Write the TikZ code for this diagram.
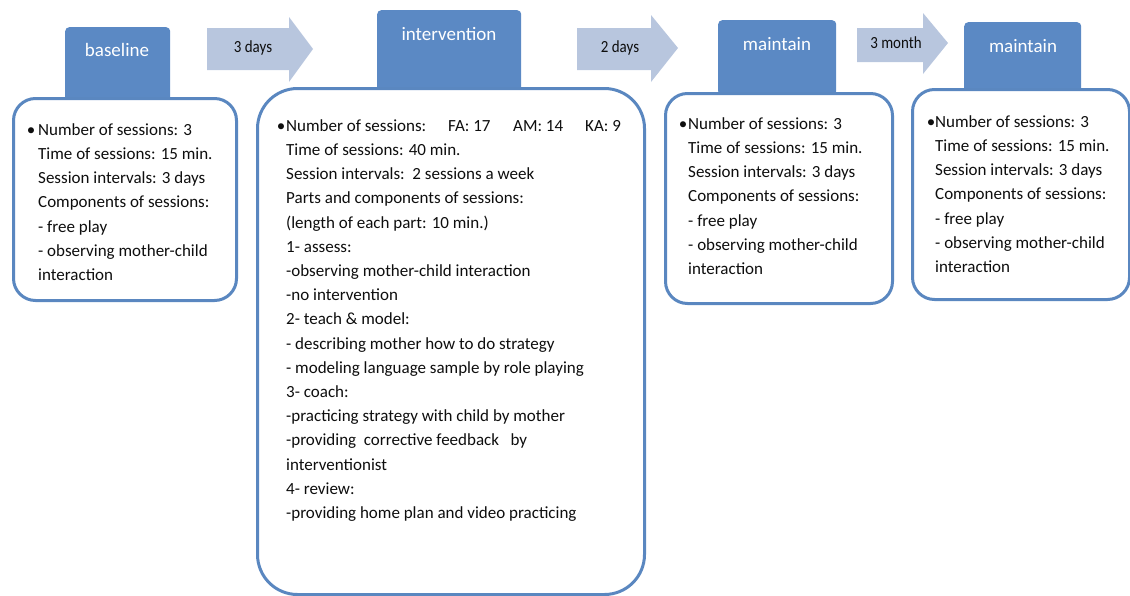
\documentclass[tikz,border=0pt]{standalone}
\usepackage{fontspec}
\setmainfont{Carlito}
\newfontfamily\condfont[FakeStretch=0.88]{Carlito}
\definecolor{hdr}{HTML}{5B89C4}
\definecolor{edge}{HTML}{5A87C0}
\definecolor{arr}{HTML}{B8C6DE}
\definecolor{txt}{HTML}{0E0E0E}
\tikzset{
  header/.style={fill=hdr, rounded corners=4pt, anchor=north west, inner sep=0pt},
  htext/.style={text=white, font=\fontsize{19}{22}\selectfont, inner sep=0pt},
  box/.style={draw=edge, line width=3pt, fill=white, anchor=north west, inner sep=0pt},
  body/.style={text=txt, font=\fontsize{17}{24.2}\selectfont, align=left, anchor=north west, inner sep=0pt},
  bul/.style={text=txt, font=\fontsize{17}{24.2}\selectfont, anchor=base, inner sep=0pt},
  atext/.style={text=txt, font=\condfont\fontsize{17}{19}\selectfont, inner sep=0pt},
  arrowshape/.style={fill=arr},
}
\begin{document}
\begin{tikzpicture}[x=1pt,y=-1pt]
\useasboundingbox (0,0) rectangle (1130,595);
% arrows
\fill[arrowshape] (207,28) -- (289,28) -- (289,17) -- (313,49) -- (289,82) -- (289,70) -- (207,70) -- cycle;
\node[atext] (a1) at (253,48) {3 days};
\fill[arrowshape] (577,28) -- (651,28) -- (651,15) -- (678,48) -- (651,82) -- (651,70) -- (577,70) -- cycle;
\node[atext] (a2) at (620,48) {2 days};
\fill[arrowshape] (857,28) -- (923,28) -- (923,13) -- (948,43) -- (923,74) -- (923,62) -- (857,62) -- cycle;
\node[atext] (a3) at (896,43) {3 month};
% headers
\node[header, minimum width=105pt, minimum height=75pt] (hb) at (65,27) {};
\node[htext] (hbt) at (117,50) {baseline};
\node[header, minimum width=144pt, minimum height=85pt] (hi) at (377,10) {};
\node[htext] (hit) at (449,34) {intervention};
\node[header, minimum width=118pt, minimum height=75pt] (hm1) at (718,20) {};
\node[htext] (hm1t) at (777,44) {maintain};
\node[header, minimum width=117pt, minimum height=72pt] (hm2) at (964,22) {};
\node[htext] (hm2t) at (1023,46) {maintain};
% boxes
\node[box, rounded corners=22pt, minimum width=223pt, minimum height=202pt] (bb) at (12,97) {};
\node[box, rounded corners=40pt, minimum width=387pt, minimum height=506pt] (bi) at (256,87) {};
\node[box, rounded corners=22pt, minimum width=227pt, minimum height=210pt] (bm1) at (664,92) {};
\node[box, rounded corners=22pt, minimum width=217pt, minimum height=210pt] (bm2) at (911,88) {};
% texts
\node[bul] (bbb) at (31,135) {•};
\node[body] (bbt) at (38,135-16.9) {\strut Number of sessions: 3\\
Time of sessions: 15 min.\\
Session intervals: 3 days\\
Components of sessions:\\
- free play\\
- observing mother-child\\
interaction};
\node[bul] (bib) at (281,131) {•};
\node[body] (bit) at (286,131-16.9) {\strut Number of sessions:\\
Time of sessions: 40 min.\\
Session intervals:\ \ 2 sessions a week\\
Parts and components of sessions:\\
(length of each part: 10 min.)\\
1- assess:\\
-observing mother-child interaction\\
-no intervention\\
2- teach \& model:\\
- describing mother how to do strategy\\
- modeling language sample by role playing\\
3- coach:\\
-practicing strategy with child by mother\\
-providing\ \ corrective feedback\ \ \ by\\
interventionist\\
4- review:\\
-providing home plan and video practicing};
\node[body, anchor=base west] (fa) at (448,131) {FA: 17};
\node[body, anchor=base west] (am) at (513,131) {AM: 14};
\node[body, anchor=base west] (ka) at (585,131) {KA: 9};
\node[bul] (bm1b) at (683,129) {•};
\node[body] (bm1t) at (688,129-16.9) {\strut Number of sessions: 3\\
Time of sessions: 15 min.\\
Session intervals: 3 days\\
Components of sessions:\\
- free play\\
- observing mother-child\\
interaction};
\node[bul] (bm2b) at (931,127) {•};
\node[body] (bm2t) at (935,127-16.9) {\strut Number of sessions: 3\\
Time of sessions: 15 min.\\
Session intervals: 3 days\\
Components of sessions:\\
- free play\\
- observing mother-child\\
interaction};
\end{tikzpicture}
\end{document}
